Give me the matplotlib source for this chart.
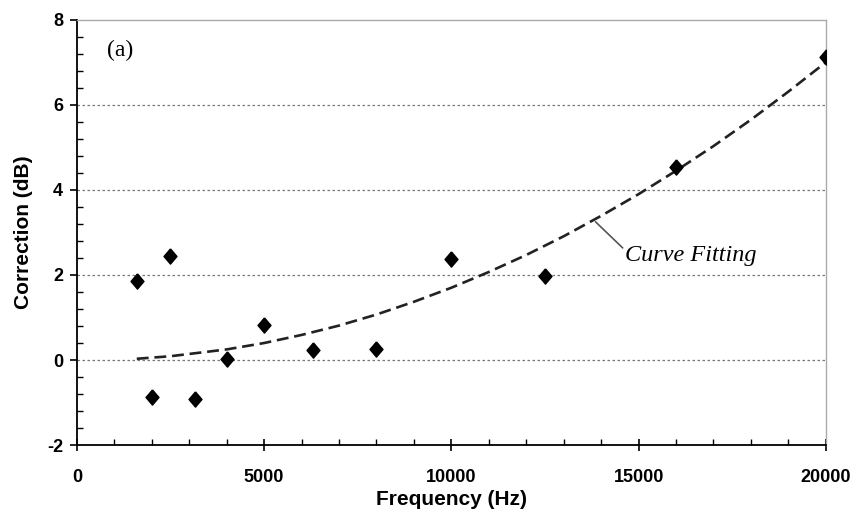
import matplotlib.pyplot as plt
from matplotlib.ticker import MultipleLocator

# measured corrections at 1/3-octave centre frequencies
freq_hz = [1600, 2000, 2500, 3150, 4000, 5000, 6300, 8000, 10000, 12500, 16000, 20000]
correction_db = [1.85, -0.88, 2.45, -0.92, 0.02, 0.83, 0.23, 0.26, 2.38, 1.97, 4.54, 7.12]

# fitted curve
fit_hz = [1600, 2500, 4000, 5000, 6000, 7000, 8000, 9000, 10000, 11000, 12000,
          13000, 14000, 15000, 16000, 17000, 18000, 19000, 20000]
fit_db = [0.03, 0.09, 0.25, 0.40, 0.59, 0.81, 1.07, 1.37, 1.70, 2.07, 2.47,
          2.91, 3.39, 3.90, 4.45, 5.03, 5.65, 6.31, 7.00]

plt.rcParams['font.family'] = ['Liberation Sans', 'DejaVu Sans']
plt.rcParams['axes.unicode_minus'] = False

fig = plt.figure(figsize=(8.54, 5.20), dpi=100)
ax = fig.add_axes([0.090, 0.144, 0.877, 0.818])

# slightly tall diamond marker
diamond = [(0, 1), (0.85, 0), (0, -1), (-0.85, 0), (0, 1)]

ax.plot(fit_hz, fit_db, color='#222222', lw=1.9, ls=(0, (4.5, 2.2)), zorder=2)
ax.scatter(freq_hz, correction_db, marker=diamond, s=120, color='black', zorder=3)

ax.set_xlim(0, 20000)
ax.set_ylim(-2, 8)
ax.xaxis.set_major_locator(MultipleLocator(5000))
ax.xaxis.set_minor_locator(MultipleLocator(1000))
ax.yaxis.set_major_locator(MultipleLocator(2))
ax.yaxis.set_minor_locator(MultipleLocator(0.4))

for y in [0, 2, 4, 6]:
    ax.axhline(y, color='#777777', lw=0.9, ls=(0, (2, 2)), zorder=1)

for side in ['top', 'right']:
    ax.spines[side].set_color('#aaaaaa')
    ax.spines[side].set_linewidth(1.0)
for side in ['left', 'bottom']:
    ax.spines[side].set_color('black')
    ax.spines[side].set_linewidth(1.3)

ax.tick_params(axis='x', which='major', direction='inout', length=8, width=1.2,
               labelsize=13, pad=13)
ax.tick_params(axis='x', which='minor', direction='in', length=4, width=1.0)
ax.tick_params(axis='y', which='major', direction='out', length=5, width=1.2,
               labelsize=13, pad=5)
ax.tick_params(axis='y', which='minor', direction='in', length=4, width=1.0)
for lbl in ax.get_xticklabels() + ax.get_yticklabels():
    lbl.set_fontweight('bold')

ax.set_xlabel('Frequency (Hz)', fontsize=15, fontweight='bold', labelpad=3)
ax.set_ylabel('Correction (dB)', fontsize=15, fontweight='bold', labelpad=10)

ax.text(800, 7.28, '(a)', fontsize=17, family='Liberation Serif', va='center')

ax.annotate('Curve Fitting', xy=(13850, 3.25), xytext=(14650, 2.45),
            fontsize=17.5, style='italic', family='Liberation Serif',
            va='center', ha='left',
            arrowprops=dict(arrowstyle='-', color='#555555', lw=1.2,
                            shrinkA=0, shrinkB=0, relpos=(0, 0.75)))

fig.savefig('out.png', dpi=100)
